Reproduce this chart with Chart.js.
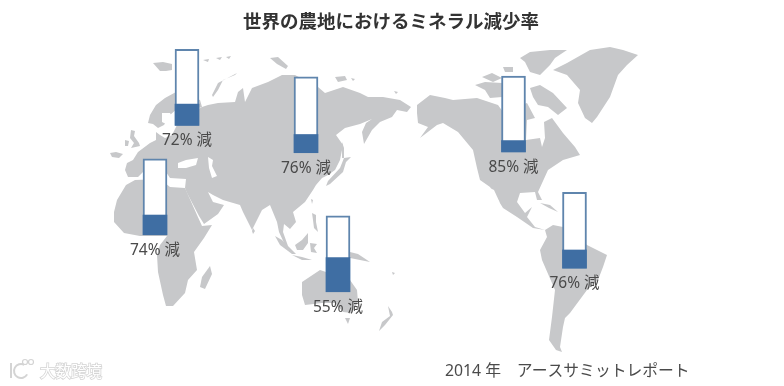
<!DOCTYPE html>
<html lang="ja">
<head>
<meta charset="utf-8">
<title>世界の農地におけるミネラル減少率</title>
<script src="https://cdn.jsdelivr.net/npm/chart.js@4"></script>
<style>
  html, body { margin: 0; padding: 0; background: #fff; }
  canvas { display: block; }
</style>
</head>
<body>
<canvas id="chart" width="784" height="386"></canvas>
<script>
const titleText = "世界の農地におけるミネラル減少率"
const sourceText = "2014 年　アースサミットレポート"
const watermarkText = "大数跨境"

const regions = ["ヨーロッパ", "アジア", "アフリカ", "オーストラリア", "北米", "南米"]
const reductions = [72, 76, 74, 55, 85, 76]

// where each gauge stands on the map: x in map px, foot in percent units above the bottom edge
const gaugeX = [187, 306, 155, 338, 513.5, 574.5]
const gaugeFoot = [343, 307, 199, 124, 308, 155]

// land shapes (x, y in map px)
const land = [
  // eurasia
  [[185,188],[186,179],[170,178],[166,172],[150,172],[143,172],[138,177],[128,177],[125,170],[127,163],[133,160],[138,152],[150,143],[156,140],[156,132],[160,135],[165,138],[172,135],[176,127],[180,118],[190,113],[202,107],[208,105],[218,103],[235,102],[238,92],[243,88],[245,102],[252,88],[268,82],[282,75],[295,75],[318,87],[325,93],[343,87],[360,93],[368,97],[383,97],[400,100],[411,107],[407,112],[397,110],[392,117],[380,122],[372,130],[364,144],[362,132],[366,123],[372,119],[360,124],[345,128],[336,135],[343,145],[340,160],[335,170],[328,175],[322,178],[316,185],[313,190],[305,202],[293,212],[296,222],[290,229],[284,224],[283,232],[288,246],[285,245],[279,232],[277,222],[270,205],[262,210],[252,230],[243,212],[240,205],[223,200],[213,195],[208,192],[213,202],[224,205],[218,214],[204,224],[199,216],[187,193]],
  // africa
  [[185,188],[170,187],[160,179],[135,180],[126,185],[117,200],[114,212],[114,222],[124,233],[140,236],[167,236],[160,245],[157,255],[158,272],[163,295],[166,306],[173,306],[185,293],[188,280],[197,270],[194,252],[204,238],[212,225],[202,226],[197,215]],
  // madagascar
  [[210,266],[212,274],[205,289],[200,287],[202,277]],
  // scandinavia
  [[148,123],[150,115],[156,105],[165,98],[176,92],[200,100],[202,107],[192,110],[178,108],[170,115],[164,125],[158,128],[153,124]],
  // britain, ireland, iceland
  [[131,130],[135,131],[134,136],[139,143],[140,146],[131,148],[134,143],[130,138]],
  [[125,140],[129,141],[128,146],[125,146]],
  [[110,153],[116,152],[123,154],[119,158],[112,157]],
  // arctic islands
  [[153,63],[163,62],[172,64],[172,70],[166,71],[160,71]],
  [[203,60],[209,59],[208,62]],
  [[216,58],[222,57],[220,60]],
  [[226,57],[231,56],[229,59]],
  [[212,95],[218,83],[237,73],[235,75],[223,80],[218,90],[213,97]],
  [[270,58],[278,57],[288,66],[286,69],[277,64]],
  [[335,77],[345,76],[347,80],[338,82]],
  [[351,78],[355,79],[353,81]],
  [[394,91],[398,92],[396,94]],
  // sakhalin, japan, taiwan
  [[342,142],[344,148],[344,158],[342,158],[342,150]],
  [[351,157],[346,162],[343,172],[330,184],[326,186],[328,181],[340,168],[344,158]],
  [[311,199],[313,200],[312,204]],
  // south east asia
  [[275,236],[282,240],[296,254],[292,254],[280,245]],
  [[292,255],[302,257],[312,260],[302,260]],
  [[295,245],[302,240],[308,233],[308,243],[303,250],[297,250]],
  [[310,243],[317,244],[314,248],[317,253],[311,252]],
  [[312,213],[316,215],[316,222],[318,232],[314,228],[313,220]],
  [[253,228],[255,231],[253,234],[252,231]],
  [[350,252],[358,254],[370,262],[360,260],[350,258]],
  [[392,272],[395,273],[393,275]],
  // australia, tasmania, new zealand
  [[302,282],[320,270],[326,272],[350,280],[357,290],[358,302],[352,313],[343,312],[335,303],[322,303],[305,305],[302,295]],
  [[345,318],[350,318],[348,324]],
  [[388,306],[392,312],[393,315],[385,325],[379,331],[382,322],[390,316]],
  // north and central america
  [[417,105],[430,95],[445,98],[453,100],[477,98],[498,105],[503,112],[527,103],[535,118],[527,120],[526,140],[540,138],[542,147],[545,138],[544,122],[552,118],[563,133],[575,147],[580,155],[563,160],[548,170],[538,192],[542,200],[537,200],[535,192],[520,193],[517,202],[525,213],[532,207],[527,217],[535,227],[545,230],[533,228],[517,217],[503,208],[490,187],[480,180],[477,168],[473,150],[458,132],[443,123],[437,125],[420,138],[428,127],[418,123],[417,113]],
  [[540,203],[550,205],[558,212],[549,208]],
  // canadian arctic
  [[520,58],[530,52],[550,50],[567,50],[555,58],[550,65],[540,75],[530,72],[525,62]],
  [[530,88],[540,85],[553,93],[567,108],[558,115],[548,107],[538,105],[533,97]],
  [[475,85],[485,82],[502,83],[502,97],[490,98],[485,90]],
  [[482,77],[492,73],[502,78],[493,82]],
  [[503,67],[513,67],[513,72],[505,72]],
  // greenland
  [[553,70],[567,63],[590,50],[610,47],[623,50],[638,55],[627,65],[618,75],[610,97],[597,117],[592,123],[585,118],[578,103],[580,90],[567,75]],
  // south america
  [[545,230],[553,225],[563,227],[587,245],[607,255],[603,267],[598,280],[587,290],[570,313],[565,318],[563,327],[560,347],[562,352],[556,350],[549,340],[552,317],[555,290],[542,260],[540,250],[547,237]]
]

// seas that sit inside the land shapes
const water = [
  [[178,163],[186,160],[198,158],[196,165],[186,168],[178,168]],
  [[208,157],[213,160],[212,166],[217,176],[212,178],[209,168]],
  [[162,113],[170,113],[175,122],[168,125],[162,122]],
  [[490,188],[494,190],[500,203],[495,199]]
]

const landColor = "#c7c8ca"
const frameColor = "#5f85ad"
const fillColor = "#3f6ea3"
const cjk = '"Noto Sans CJK JP", "Noto Sans", sans-serif'

const shape = (ctx, x, y, pts) => {
  ctx.beginPath()
  pts.forEach((p, i) => {
    const px = x.getPixelForValue(p[0])
    const py = y.getPixelForValue(p[1])
    if (i === 0) ctx.moveTo(px, py)
    else ctx.lineTo(px, py)
  })
  ctx.closePath()
  ctx.fill()
}

const mapLayer = {
  id: "mapLayer",
  beforeDatasetsDraw(chart) {
    const { ctx, scales } = chart
    ctx.save()
    ctx.fillStyle = landColor
    land.forEach(pts => shape(ctx, scales.x, scales.mapY, pts))
    ctx.fillStyle = "#fff"
    water.forEach(pts => shape(ctx, scales.x, scales.mapY, pts))
    ctx.restore()
  }
}

const textLayer = {
  id: "textLayer",
  afterDatasetsDraw(chart) {
    const { ctx, scales } = chart
    const frames = chart.getDatasetMeta(1).data
    ctx.save()
    ctx.textBaseline = "middle"

    ctx.textAlign = "center"
    ctx.fillStyle = "#333"
    ctx.font = "bold 18.5px " + cjk
    ctx.fillText(titleText, scales.x.getPixelForValue(391), 21)

    ctx.fillStyle = "#4a4a4a"
    ctx.font = '15.5px "Noto Sans", ' + cjk
    reductions.forEach((r, i) => {
      ctx.fillText(r + "% 減", frames[i].x, frames[i].base + 15.5)
    })

    ctx.textAlign = "left"
    ctx.font = '15.8px "Noto Sans", ' + cjk
    ctx.fillText(sourceText, 445, 371)

    // watermark, bottom left
    ctx.font = "15.5px " + cjk
    ctx.strokeStyle = "#d4d4d4"
    ctx.lineWidth = 1.5
    ctx.strokeText(watermarkText, 40, 371)
    ctx.fillStyle = "#fff"
    ctx.fillText(watermarkText, 40, 371)
    ctx.lineWidth = 2
    ctx.beginPath()
    ctx.arc(21, 371, 7, 0.5, 5.2)
    ctx.stroke()
    ctx.beginPath()
    ctx.moveTo(11, 363)
    ctx.lineTo(11, 378)
    ctx.stroke()
    ctx.lineWidth = 1.2
    ctx.beginPath()
    ctx.arc(25, 362, 2.5, 0, Math.PI * 2)
    ctx.stroke()
    ctx.beginPath()
    ctx.arc(31, 362, 2.5, 0, Math.PI * 2)
    ctx.stroke()
    ctx.restore()
  }
}

new Chart(document.getElementById("chart"), {
  type: "bar",
  data: {
    datasets: [
      {
        // the part of the mineral content that is left
        label: "残り",
        data: regions.map((name, i) => ({ x: gaugeX[i], y: [gaugeFoot[i], gaugeFoot[i] + 100 - reductions[i]] })),
        backgroundColor: fillColor,
        borderWidth: 0,
        barThickness: 24,
        grouped: false,
        order: 1
      },
      {
        // the full gauge, 100%
        label: "全体",
        data: regions.map((name, i) => ({ x: gaugeX[i], y: [gaugeFoot[i], gaugeFoot[i] + 100] })),
        backgroundColor: "#fff",
        borderColor: frameColor,
        borderWidth: 2,
        borderSkipped: false,
        barThickness: 24,
        grouped: false,
        order: 2
      }
    ]
  },
  options: {
    responsive: false,
    animation: false,
    layout: { padding: 0 },
    plugins: { legend: { display: false }, tooltip: { enabled: false } },
    scales: {
      x: { type: "linear", min: 0, max: 784, offset: false, display: false },
      y: { min: 0, max: 508, display: false },
      mapY: { axis: "y", type: "linear", min: 0, max: 386, reverse: true, display: false }
    }
  },
  plugins: [mapLayer, textLayer]
})
</script>
</body>
</html>
